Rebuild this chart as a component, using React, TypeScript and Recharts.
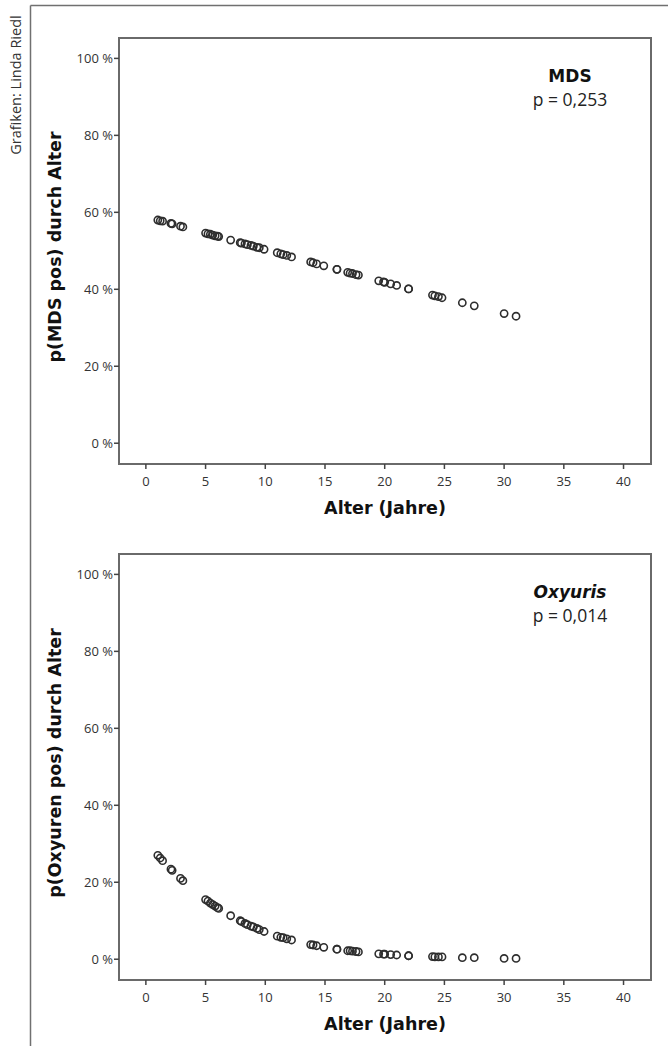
import React from 'react';
import { ScatterChart, Scatter, XAxis, YAxis, ReferenceArea, Label } from 'recharts';

// ---- data ----
const AGES = [
  1.0, 1.2, 1.4, 2.1, 2.2, 2.9, 3.1, 5.0, 5.2, 5.4, 5.6, 5.8, 6.0, 6.1, 7.1, 7.9, 8.0, 8.3, 8.5, 8.8,
  9.0, 9.3, 9.5, 9.9, 11.0, 11.3, 11.5, 11.8, 12.2, 13.8, 14.0, 14.3, 14.9, 16.0, 16.0, 16.9, 17.1,
  17.3, 17.6, 17.8, 19.5, 19.9, 20.0, 20.5, 21.0, 22.0, 22.0, 24.0, 24.2, 24.5, 24.8, 26.5, 27.5,
  30.0, 31.0,
];
const MDS_PCT = [
  58.0, 57.8, 57.7, 57.1, 57.0, 56.4, 56.2, 54.6, 54.4, 54.3, 54.1, 53.9, 53.8, 53.7, 52.8, 52.1,
  52.0, 51.8, 51.6, 51.4, 51.2, 50.9, 50.8, 50.4, 49.5, 49.2, 49.0, 48.8, 48.4, 47.1, 46.9, 46.6,
  46.1, 45.2, 45.2, 44.4, 44.2, 44.1, 43.8, 43.7, 42.2, 41.9, 41.8, 41.4, 41.0, 40.1, 40.1, 38.5,
  38.3, 38.1, 37.8, 36.5, 35.7, 33.7, 33.0,
];
const OXY_PCT = [
  27.0, 26.3, 25.6, 23.4, 23.1, 21.0, 20.4, 15.5, 15.1, 14.6, 14.2, 13.8, 13.4, 13.2, 11.3, 10.0,
  9.8, 9.3, 9.0, 8.6, 8.4, 8.0, 7.7, 7.2, 6.0, 5.7, 5.6, 5.3, 5.0, 3.8, 3.7, 3.5, 3.1, 2.6, 2.6,
  2.2, 2.2, 2.1, 2.0, 1.9, 1.4, 1.3, 1.3, 1.2, 1.1, 0.9, 0.9, 0.7, 0.6, 0.6, 0.6, 0.4, 0.4, 0.2, 0.2,
];
const X_TICKS = [0, 5, 10, 15, 20, 25, 30, 35, 40];
const Y_TICKS = [0, 20, 40, 60, 80, 100];
const X_TITLE = 'Alter (Jahre)';
const PANELS = [
  { key: 'mds', yTitle: 'p(MDS pos) durch Alter', name: 'MDS', italic: false, pText: 'p = 0,253', values: MDS_PCT },
  { key: 'oxy', yTitle: 'p(Oxyuren pos) durch Alter', name: 'Oxyuris', italic: true, pText: 'p = 0,014', values: OXY_PCT },
];
const CREDIT = 'Grafiken: Linda Riedl';

// ---- layout / style ----
const X_DOMAIN: [number, number] = [-2.25, 42.3];
const Y_DOMAIN: [number, number] = [-5.4, 105.3];
const PANEL_W = 668;
const PANEL_H = 530;
const PANEL_STEP = 516;
const LIGHT = '"Open Sans", "DejaVu Sans", sans-serif';
const BOLD = '"DejaVu Sans", "Open Sans", sans-serif';
const BOX = '#6a6a6a';

const Ring = (props: any) => {
  const { cx, cy } = props;
  if (cx == null || cy == null) return null;
  return <circle cx={cx} cy={cy} r={3.6} fill="none" stroke="#2e2e2e" strokeWidth={1.6} />;
};

const YTitle = (props: any) => {
  const vb = props.viewBox || {};
  const cx = (vb.x || 0) + 55;
  const cy = (vb.y || 0) + (vb.height || 0) / 2 - 4;
  return (
    <text
      x={cx}
      y={cy}
      transform={`rotate(-90 ${cx} ${cy})`}
      textAnchor="middle"
      dominantBaseline="central"
      fontFamily={BOLD}
      fontWeight={700}
      fontSize={17.5}
      fill="#111"
    >
      {props.value}
    </text>
  );
};

const XTitle = (props: any) => {
  const vb = props.viewBox || {};
  const cx = (vb.x || 0) + (vb.width || 0) / 2;
  const cy = (vb.y || 0) + 44;
  return (
    <text x={cx} y={cy} textAnchor="middle" dominantBaseline="central" fontFamily={BOLD} fontWeight={700} fontSize={17.5} fill="#111">
      {props.value}
    </text>
  );
};

const TICK_STYLE = { fill: '#333', fontSize: 13, fontFamily: LIGHT, fontWeight: 400 };

function Panel({ panel, top }: { panel: (typeof PANELS)[number]; top: number }) {
  const data = AGES.map((a, i) => ({ age: a, p: panel.values[i] }));
  return (
    <div style={{ position: 'absolute', left: 0, top, width: PANEL_W, height: PANEL_H }}>
      <ScatterChart width={PANEL_W} height={PANEL_H} margin={{ top: 38, right: 17, bottom: 0, left: 0 }}>
        <XAxis
          type="number"
          dataKey="age"
          domain={X_DOMAIN}
          ticks={X_TICKS}
          allowDataOverflow
          interval={0}
          height={66}
          axisLine={false}
          tickSize={5}
          tickMargin={8}
          tickLine={{ stroke: '#444', strokeWidth: 1.5 }}
          tick={TICK_STYLE}
        >
          <Label value={X_TITLE} content={<XTitle />} />
        </XAxis>
        <YAxis
          type="number"
          dataKey="p"
          domain={Y_DOMAIN}
          ticks={Y_TICKS}
          allowDataOverflow
          interval={0}
          width={119}
          axisLine={false}
          tickSize={5}
          tickMargin={1}
          tickLine={{ stroke: '#444', strokeWidth: 1.5 }}
          tickFormatter={(v: number) => `${v} %`}
          tick={TICK_STYLE}
        >
          <Label value={panel.yTitle} content={<YTitle />} />
        </YAxis>
        <ReferenceArea
          x1={X_DOMAIN[0]}
          x2={X_DOMAIN[1]}
          y1={Y_DOMAIN[0]}
          y2={Y_DOMAIN[1]}
          fill="none"
          stroke={BOX}
          strokeWidth={2}
          ifOverflow="visible"
        />
        <Scatter data={data} shape={<Ring />} isAnimationActive={false} />
      </ScatterChart>
      <svg width={PANEL_W} height={PANEL_H} style={{ position: 'absolute', left: 0, top: 0, pointerEvents: 'none' }}>
        <text
          x={570}
          y={76}
          textAnchor="middle"
          dominantBaseline="central"
          fontFamily={BOLD}
          fontWeight={700}
          fontStyle={panel.italic ? 'italic' : 'normal'}
          fontSize={17}
          fill="#111"
        >
          {panel.name}
        </text>
        <text x={570} y={99} textAnchor="middle" dominantBaseline="central" fontFamily={LIGHT} fontWeight={400} fontSize={17.5} fill="#222">
          {panel.pText}
        </text>
      </svg>
    </div>
  );
}

export default function App() {
  return (
    <div style={{ position: 'absolute', left: 0, top: 0, width: 668, height: 1046, background: '#fff', overflow: 'hidden' }}>
      <svg width={668} height={1046} style={{ position: 'absolute', left: 0, top: 0 }}>
        <line x1={30.5} y1={5.5} x2={30.5} y2={1046} stroke="#707070" strokeWidth={1.5} />
        <line x1={30.5} y1={5.5} x2={668} y2={5.5} stroke="#707070" strokeWidth={1.5} />
        <text
          x={15}
          y={85}
          transform="rotate(-90 15 85)"
          textAnchor="middle"
          dominantBaseline="central"
          fontFamily={LIGHT}
          fontWeight={400}
          fontSize={14.5}
          fill="#333"
        >
          {CREDIT}
        </text>
      </svg>
      {PANELS.map((p, i) => (
        <Panel key={p.key} panel={p} top={i * PANEL_STEP} />
      ))}
    </div>
  );
}
